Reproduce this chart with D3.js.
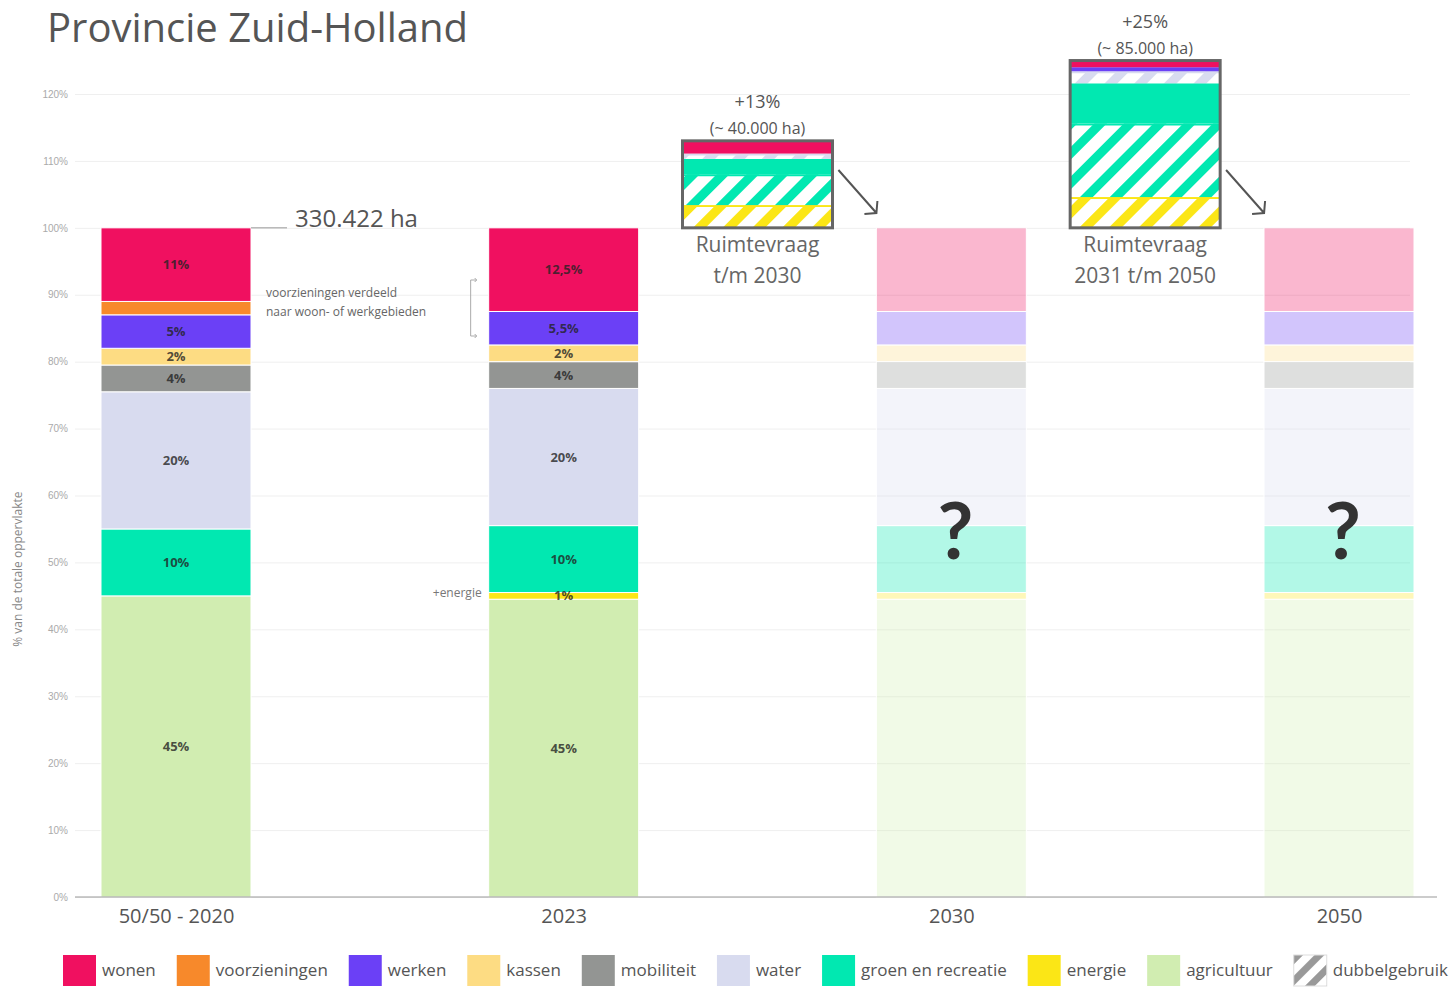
<!DOCTYPE html>
<html>
<head>
<meta charset="utf-8">
<script src="https://cdn.jsdelivr.net/npm/d3@7"></script>
<style>
  body { margin: 0; background: #fff; }
  svg { display: block; font-family: "Open Sans", sans-serif; }
</style>
</head>
<body>
<svg width="1453" height="987"></svg>
<script>
// ---- data ----
var categories = ['agricultuur', 'energie', 'groen en recreatie', 'water', 'mobiliteit', 'kassen', 'werken', 'voorzieningen', 'wonen'];
var categoryColors = ['#d1edb1', '#fbe616', '#01e8b1', '#d8dbef', '#939593', '#fddc83', '#6b40f6', '#f7892b', '#f01060'];
var legendItems = ['wonen', 'voorzieningen', 'werken', 'kassen', 'mobiliteit', 'water', 'groen en recreatie', 'energie', 'agricultuur', 'dubbelgebruik'];

var columns = ['50/50 - 2020', 'toelichting', '2023', 'vraag 2030', '2030', 'vraag 2050', '2050'];
var years = ['50/50 - 2020', '2023', '2030', '2050'];

var values2020 = [45, 0, 10, 20.5, 4, 2.5, 5, 2, 11];
var labels2020 = ['45%', '', '10%', '20%', '4%', '2%', '5%', '', '11%'];
var values2023 = [44.5, 1, 10, 20.5, 4, 2.5, 5, 0, 12.5];
var labels2023 = ['45%', '1%', '10%', '20%', '4%', '2%', '5,5%', '', '12,5%'];

// space demand boxes, bottom to top
var demandCats2030 = ['energie', 'groen en recreatie', 'groen en recreatie', 'water', 'wonen'];
var demandHatch2030 = [true, true, false, true, false];
var demandValues2030 = [3.4, 4.6, 2.3, 0.8, 1.9];
var demandCats2050 = ['energie', 'groen en recreatie', 'groen en recreatie', 'water', 'werken', 'wonen'];
var demandHatch2050 = [true, true, false, true, false, false];
var demandValues2050 = [4.6, 11, 6, 1.8, 0.6, 1];

var yTicks = [0, 10, 20, 30, 40, 50, 60, 70, 80, 90, 100, 110, 120];

// ---- layout ----
var svg = d3.select('svg');
var barWidth = 150;
var plotLeft = 75, plotRight = 1410, axisRight = 1437;

var x = d3.scalePoint().domain(columns).range([176, 1339]);
var y = d3.scaleLinear().domain([0, 120]).range([897, 94]);
var color = d3.scaleOrdinal().domain(categories).range(categoryColors);

// hatch patterns for "dubbelgebruik"
var defs = svg.append('defs');
function hatch(id, c, size, stripe) {
  var p = defs.append('pattern')
      .attr('id', id)
      .attr('patternUnits', 'userSpaceOnUse')
      .attr('width', size)
      .attr('height', size)
      .attr('patternTransform', 'rotate(45)');
  p.append('rect').attr('width', size).attr('height', size).attr('fill', '#fff');
  p.append('rect').attr('width', stripe).attr('height', size).attr('fill', c);
}
categories.forEach(function(c, i){ hatch('h' + i, categoryColors[i], 21, 9); });
hatch('hLegend', '#999', 15, 7);

function hatchId(cat){ return 'url(#h' + categories.indexOf(cat) + ')'; }

// title
svg.append('text')
    .attr('x', 47).attr('y', 42)
    .attr('font-size', 40)
    .attr('fill', '#555')
    .text('Provincie Zuid-Holland');

// grid + y axis
var yAxis = svg.append('g')
    .attr('transform', 'translate(' + plotLeft + ',0)')
    .call(d3.axisLeft(y).tickValues(yTicks).tickSize(-(plotRight - plotLeft)).tickPadding(7)
      .tickFormat(function(d){ return d + '%'; }));
yAxis.select('.domain').remove();
yAxis.selectAll('line').attr('stroke', '#efefef');
yAxis.selectAll('text').attr('fill', '#aaa').attr('font-size', 10);

svg.append('text')
    .attr('transform', 'translate(22,' + y(49) + ') rotate(-90)')
    .attr('text-anchor', 'middle')
    .attr('font-size', 12)
    .attr('fill', '#888')
    .text('% van de totale oppervlakte');

// stacked bar helper: rects first, labels on top
function drawStack(col, values, labels, opacity) {
  var tops = d3.cumsum(values);
  var g = svg.append('g');
  var x0 = x(col) - barWidth / 2;
  values.forEach(function(v, i){
    if (!v) return;
    g.append('rect')
        .attr('x', x0)
        .attr('width', barWidth)
        .attr('y', y(tops[i]))
        .attr('height', y(tops[i] - v) - y(tops[i]))
        .attr('fill', categoryColors[i])
        .attr('fill-opacity', opacity)
        .attr('stroke', '#fff')
        .attr('stroke-width', 1);
  });
  if (!labels) return;
  values.forEach(function(v, i){
    if (!v || !labels[i]) return;
    g.append('text')
        .attr('x', x(col))
        .attr('y', y(tops[i] - v / 2))
        .attr('dy', '0.35em')
        .attr('text-anchor', 'middle')
        .attr('font-size', 13)
        .attr('font-weight', 700)
        .attr('fill', 'rgba(35,35,35,0.8)')
        .text(labels[i]);
  });
}

drawStack('50/50 - 2020', values2020, labels2020, 1);
drawStack('2023', values2023, labels2023, 1);
drawStack('2030', values2023, null, 0.3);
drawStack('2050', values2023, null, 0.3);

['2030', '2050'].forEach(function(col){
  svg.append('text')
      .attr('x', x(col) + 4)
      .attr('y', y(50.5))
      .attr('text-anchor', 'middle')
      .attr('font-size', 78)
      .attr('font-weight', 700)
      .attr('font-family', 'Lato, sans-serif')
      .attr('fill', '#333')
      .text('?');
});

// x axis
svg.append('line')
    .attr('x1', plotLeft).attr('x2', axisRight)
    .attr('y1', y(0)).attr('y2', y(0))
    .attr('stroke', '#999');
var xAxis = svg.append('g')
    .attr('transform', 'translate(0,' + y(0) + ')')
    .call(d3.axisBottom(x).tickValues(years).tickSize(0).tickPadding(12));
xAxis.select('.domain').remove();
xAxis.selectAll('text').attr('font-size', 20).attr('fill', '#555').attr('font-family', '"Open Sans", sans-serif');

// demand boxes
function drawDemand(col, cats, hatches, values, pct, ha, caption) {
  var total = d3.sum(values);
  var tops = d3.cumsum(values);
  var base = 100;
  var x0 = x(col) - barWidth / 2;
  var g = svg.append('g');
  values.forEach(function(v, i){
    var c = color(cats[i]);
    g.append('rect')
        .attr('x', x0)
        .attr('width', barWidth)
        .attr('y', y(base + tops[i]))
        .attr('height', y(base + tops[i] - v) - y(base + tops[i]))
        .attr('fill', hatches[i] ? hatchId(cats[i]) : c);
    if (hatches[i]) {
      g.append('line')
          .attr('x1', x0).attr('x2', x0 + barWidth)
          .attr('y1', y(base + tops[i]) + 1).attr('y2', y(base + tops[i]) + 1)
          .attr('stroke', c).attr('stroke-width', 2);
    }
  });
  g.append('rect')
      .attr('x', x0)
      .attr('width', barWidth)
      .attr('y', y(base + total))
      .attr('height', y(base) - y(base + total))
      .attr('fill', 'none')
      .attr('stroke', '#666')
      .attr('stroke-width', 3);
  g.append('text')
      .attr('x', x(col)).attr('y', y(base + total) - 33)
      .attr('text-anchor', 'middle').attr('font-size', 18).attr('fill', '#555')
      .text(pct);
  g.append('text')
      .attr('x', x(col)).attr('y', y(base + total) - 7)
      .attr('text-anchor', 'middle').attr('font-size', 16).attr('fill', '#555')
      .text(ha);
  caption.forEach(function(line, i){
    g.append('text')
        .attr('x', x(col)).attr('y', y(base) + 24 + i * 31)
        .attr('text-anchor', 'middle').attr('font-size', 21).attr('fill', '#666')
        .text(line);
  });
}
drawDemand('vraag 2030', demandCats2030, demandHatch2030, demandValues2030, '+13%', '(~ 40.000 ha)', ['Ruimtevraag', 't/m 2030']);
drawDemand('vraag 2050', demandCats2050, demandHatch2050, demandValues2050, '+25%', '(~ 85.000 ha)', ['Ruimtevraag', '2031 t/m 2050']);

// arrows from demand box to future bar
function arrow(fromCol, toCol) {
  var gapMid = ((x(fromCol) + barWidth / 2) + (x(toCol) - barWidth / 2)) / 2;
  var x1 = gapMid - 16, y1 = 170, x2 = gapMid + 22, y2 = 213;
  svg.append('path')
      .attr('d', 'M' + x1 + ',' + y1 + 'L' + x2 + ',' + y2 +
        'M' + (x2 - 12) + ',' + (y2 + 1) + 'L' + x2 + ',' + y2 + 'L' + (x2 + 1) + ',' + (y2 - 12))
      .attr('fill', 'none')
      .attr('stroke', '#555')
      .attr('stroke-width', 2);
}
arrow('vraag 2030', '2030');
arrow('vraag 2050', '2050');

// annotations
var bar1Right = x('50/50 - 2020') + barWidth / 2;
var bar2Left = x('2023') - barWidth / 2;
svg.append('line')
    .attr('x1', bar1Right).attr('x2', bar1Right + 36)
    .attr('y1', y(100)).attr('y2', y(100))
    .attr('stroke', '#999');
svg.append('text')
    .attr('x', bar1Right + 44).attr('y', y(100) - 1)
    .attr('font-size', 24).attr('fill', '#555')
    .text('330.422 ha');

svg.append('text')
    .attr('x', bar1Right + 15).attr('y', 297)
    .attr('font-size', 12).attr('fill', '#666')
    .text('voorzieningen verdeeld');
svg.append('text')
    .attr('x', bar1Right + 15).attr('y', 316)
    .attr('font-size', 12).attr('fill', '#666')
    .text('naar woon- of werkgebieden');

var bx = bar2Left - 18;
svg.append('path')
    .attr('d', 'M' + (bx + 6) + ',280H' + bx + 'V336H' + (bx + 6) +
      'M' + (bx + 4) + ',278L' + (bx + 6) + ',280L' + (bx + 4) + ',282' +
      'M' + (bx + 4) + ',334L' + (bx + 6) + ',336L' + (bx + 4) + ',338')
    .attr('fill', 'none')
    .attr('stroke', '#aaa');

svg.append('text')
    .attr('x', bar2Left - 7).attr('y', y(45.5) + 4)
    .attr('text-anchor', 'end')
    .attr('font-size', 12).attr('fill', '#777')
    .text('+energie');

// legend
var legend = svg.append('g');
var items = legend.selectAll('g').data(legendItems).enter().append('g');
items.append('rect')
    .attr('width', 33).attr('height', 31)
    .attr('y', 955)
    .attr('fill', function(d){ return d === 'dubbelgebruik' ? 'url(#hLegend)' : color(d); })
    .attr('stroke', function(d){ return d === 'dubbelgebruik' ? '#ddd' : 'none'; });
items.append('text')
    .attr('x', 39).attr('y', 976)
    .attr('font-size', 17).attr('fill', '#555')
    .text(function(d){ return d; });
var widths = [];
items.each(function(){ widths.push(39 + d3.select(this).select('text').node().getComputedTextLength()); });
var legendLeft = 63, legendRight = 1448;
var gap = (legendRight - legendLeft - d3.sum(widths)) / (widths.length - 1);
var cx = legendLeft;
items.each(function(d, i){
  d3.select(this).attr('transform', 'translate(' + cx + ',0)');
  cx += widths[i] + gap;
});
</script>
</body>
</html>
